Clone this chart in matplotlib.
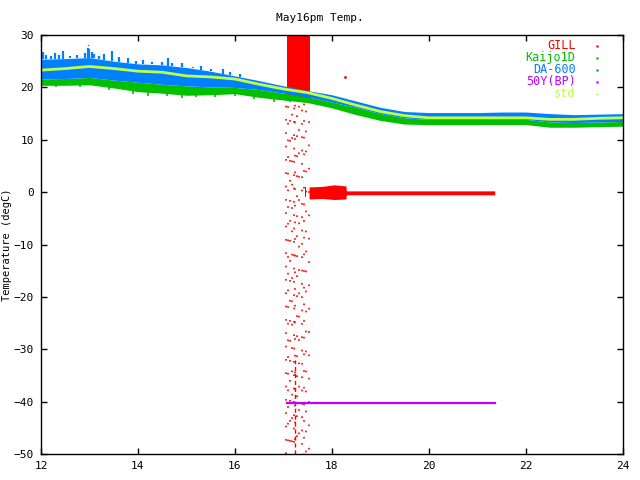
import matplotlib
matplotlib.use("Agg")
import matplotlib.pyplot as plt
import numpy as np

# colours (gnuplot defaults)
c_gill = "#ff0000"
c_kaijo = "#00c000"
c_da = "#0080ff"
c_50y = "#c000ff"
c_std = "#c0ff48"

# envelope samples (hour, degC)
t = [12.0, 12.5, 13.0, 13.5, 14.0, 14.5, 15.0, 15.5, 16.0, 16.5, 17.0, 17.5,
     18.0, 18.5, 19.0, 19.5, 20.0, 20.5, 21.0, 21.5, 22.0, 22.5, 23.0, 23.5, 24.0]
da_top = [25.4, 25.5, 25.7, 25.0, 24.5, 24.3, 23.8, 23.1, 22.2, 21.3, 20.3, 19.4,
          18.6, 17.4, 16.2, 15.4, 15.2, 15.2, 15.2, 15.3, 15.3, 15.0, 14.8, 14.9, 15.0]
std_mid = [23.3, 23.6, 24.0, 23.6, 23.1, 22.9, 22.2, 22.0, 21.6, 20.6, 19.7, 19.0,
           17.9, 16.6, 15.4, 14.6, 14.2, 14.2, 14.2, 14.2, 14.2, 13.9, 13.9, 14.1, 14.2]
kaijo_top = [21.6, 21.7, 21.9, 21.4, 21.0, 20.6, 20.3, 20.1, 20.0, 19.6, 18.9, 18.2,
             17.2, 16.2, 15.0, 14.2, 13.9, 13.9, 13.9, 13.9, 13.9, 13.4, 13.3, 13.4, 13.5]
kaijo_bot = [20.4, 20.4, 20.5, 19.9, 19.2, 18.9, 18.5, 18.6, 18.8, 18.1, 17.6, 17.1,
             16.1, 14.8, 13.7, 13.0, 12.9, 12.9, 12.9, 12.9, 12.9, 12.4, 12.4, 12.5, 12.6]

# DA-600 spikes above the band
spike_t = [12.05, 12.1, 12.2, 12.29, 12.38, 12.46, 12.6, 12.75, 12.9, 12.97, 13.0,
           13.05, 13.1, 13.2, 13.3, 13.46, 13.6, 13.8, 13.97, 14.1, 14.3, 14.5,
           14.62, 14.7, 14.9, 15.13, 15.3, 15.5, 15.75, 15.9, 16.1]
spike_top = [26.8, 26.2, 26.0, 26.6, 26.1, 27.0, 26.0, 26.2, 26.6, 27.5, 27.3,
             26.8, 26.3, 26.0, 26.4, 27.0, 25.8, 25.6, 25.0, 25.2, 24.8, 24.9,
             25.6, 24.7, 24.6, 23.9, 24.1, 23.6, 23.6, 23.0, 22.6]

# Kaijo1D dips below the band
dip_t = [12.3, 12.8, 13.4, 13.9, 14.2, 14.6, 14.9, 15.2, 15.6, 16.0, 16.4, 16.8]
dip_bot = [20.0, 20.1, 19.5, 18.8, 18.4, 18.3, 17.9, 18.1, 18.1, 18.3, 17.7, 17.3]

# GILL
gill_dense_t = [17.07, 17.55]
gill_dense_y = [17.4, 30.0]
gill_cols = [17.06, 17.09, 17.13, 17.17, 17.21, 17.25, 17.29, 17.33, 17.38,
             17.42, 17.47, 17.52]
gill_zero_t = [17.53, 17.8, 18.05, 18.29, 18.3, 19.0, 20.0, 21.0, 21.36]
gill_zero_top = [1.0, 1.1, 1.4, 1.2, 0.25, 0.25, 0.25, 0.25, 0.25]
gill_zero_bot = [-1.3, -1.2, -1.4, -1.3, -0.5, -0.5, -0.5, -0.5, -0.5]

# 50Y(BP)
y50_t = [17.08, 21.36]
y50_v = [-40.2, -40.2]

labels = ["GILL", "Kaijo1D", "DA-600", "50Y(BP)", "std"]
colors = [c_gill, c_kaijo, c_da, c_50y, c_std]

plt.rcParams["font.family"] = ["DejaVu Sans Mono"]
plt.rcParams["font.size"] = 8

fig = plt.figure(figsize=(6.4, 4.8), dpi=100)
ax = fig.add_axes([0.064, 0.054, 0.909, 0.873])

# GILL sparse dots and dense block
for i, xc in enumerate(gill_cols):
    ax.vlines(xc, -50, 17.5, colors=c_gill, linewidth=1.2,
              linestyles=[(i * 2.3, (1, 7 + 2 * (i % 4)))])
ax.vlines(17.24, -50, -32, colors=c_gill, linewidth=1.0, linestyles=[(0, (3, 2))])
ax.fill_between(gill_dense_t, gill_dense_y[0], gill_dense_y[1], color=c_gill, linewidth=0)

# Kaijo1D
ax.fill_between(t, kaijo_bot, kaijo_top, color=c_kaijo, linewidth=0)
ax.vlines(dip_t, dip_bot, [np.interp(s, t, kaijo_bot) for s in dip_t],
          colors=c_kaijo, linewidth=1.2)
ax.vlines(12.97, 26.6, 28.5, colors=c_kaijo, linewidth=1, linestyles="dotted")

# DA-600
ax.fill_between(t, kaijo_top, da_top, color=c_da, linewidth=0)
ax.vlines(spike_t, [np.interp(s, t, da_top) for s in spike_t], spike_top,
          colors=c_da, linewidth=1.6)

# GILL around zero
ax.fill_between([17.44, 17.47], -1.0, 1.0, color=c_gill, linewidth=0)
ax.fill_between(gill_zero_t, gill_zero_bot, gill_zero_top, color=c_gill, linewidth=0)
ax.plot([18.27], [21.9], ".", color=c_gill, markersize=2)

# 50Y(BP)
ax.plot(y50_t, y50_v, color=c_50y, linewidth=1.6)

# std
ax.plot(t, std_mid, color=c_std, linewidth=2.0)

ax.set_xlim(12, 24)
ax.set_ylim(-50, 30)
ax.set_xticks(np.arange(12, 25, 2))
ax.set_yticks(np.arange(-50, 31, 10))
ax.tick_params(direction="in", length=4, top=True, right=True, width=1, pad=5)
for s in ax.spines.values():
    s.set_linewidth(1)
ax.set_ylabel("Temperature (degC)", fontsize=7.5)
ax.yaxis.set_label_coords(-0.049, 0.5)
fig.text(0.5, 0.962, "May16pm Temp.", ha="center", va="center")

# gnuplot-style key
for i, (lab, col) in enumerate(zip(labels, colors)):
    yk = 0.974 - i * 0.0286
    ax.text(0.919, yk, lab, color=col, ha="right", va="center", transform=ax.transAxes, fontsize=8.5)
    ax.plot([0.955], [yk], ".", color=col, markersize=1.5, transform=ax.transAxes)

fig.savefig("out.png", dpi=100)
